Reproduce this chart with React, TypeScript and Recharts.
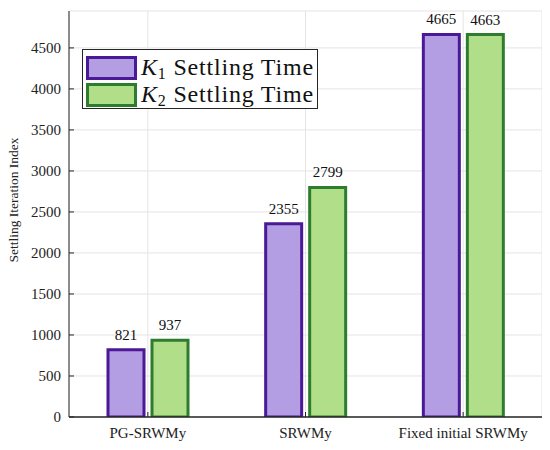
import React from 'react'
import {
  BarChart, Bar, XAxis, YAxis, CartesianGrid, LabelList,
} from 'recharts'

const categories = ['PG-SRWMy', 'SRWMy', 'Fixed initial SRWMy']
const k1Values = [821, 2355, 4665]
const k2Values = [937, 2799, 4663]
const yTicks = [0, 500, 1000, 1500, 2000, 2500, 3000, 3500, 4000, 4500]
const yMax = 4950

const SERIF = '"Liberation Serif"'
const AXIS = '#262626'

const K1_FILL = '#b39de3'
const K1_STROKE = '#4b1896'
const K2_FILL = '#b1df89'
const K2_STROKE = '#2e7d2e'

const legendItems = [
  { sub: '1', fill: K1_FILL, stroke: K1_STROKE },
  { sub: '2', fill: K2_FILL, stroke: K2_STROKE },
]

const data = categories.map((name, i) => ({ name, k1: k1Values[i], k2: k2Values[i] }))

function YLabel(props: any) {
  const vb = props.viewBox
  const x = vb.x + 13
  const y = vb.y + vb.height / 2 - 14
  return (
    <text x={x} y={y} transform={`rotate(-90 ${x} ${y})`} textAnchor="middle"
      dominantBaseline="central" style={{ fontFamily: SERIF, fontSize: 13.5 }} fill="#222">
      Settling Iteration Index
    </text>
  )
}

function LegendBox() {
  return (
    <div style={{
      position: 'absolute', left: 82, top: 49, width: 236, height: 60,
      border: `1px solid ${AXIS}`, background: '#fff', boxSizing: 'border-box',
      padding: '4px 0 0 3px',
    }}>
      {legendItems.map((it) => (
        <div key={it.sub} style={{ display: 'flex', alignItems: 'center', height: 27 }}>
          <div style={{
            width: 51, height: 24, boxSizing: 'border-box', background: it.fill,
            border: `3px solid ${it.stroke}`,
          }} />
          <span style={{ marginLeft: 4, fontFamily: SERIF, fontSize: 24, lineHeight: '27px', letterSpacing: 0.8, color: '#111', whiteSpace: 'nowrap' }}>
            <i>K</i><sub style={{ fontSize: 16, verticalAlign: -4, lineHeight: 0 }}>{it.sub}</sub> Settling Time
          </span>
        </div>
      ))}
    </div>
  )
}

export default function App() {
  const tickStyle = { fontSize: 15, fill: '#222', style: { fontFamily: SERIF } }
  return (
    <div style={{ position: 'relative', width: 550, height: 450, margin: -8, background: '#fff', fontFamily: SERIF }}>
      <BarChart width={550} height={450} data={data} barGap={8}
        margin={{ top: 11, right: 8, bottom: 0, left: 0 }} style={{ fontFamily: SERIF }}>
        <CartesianGrid stroke="#e4e4e4" strokeWidth={1} />
        <XAxis dataKey="name" height={33} tick={tickStyle} tickSize={-5} tickMargin={15}
          axisLine={{ stroke: AXIS, strokeWidth: 1.5 }} tickLine={{ stroke: AXIS }} />
        <XAxis xAxisId="top" dataKey="name" orientation="top" height={0} tick={false} tickSize={-5}
          axisLine={{ stroke: AXIS }} tickLine={{ stroke: AXIS }} />
        <YAxis width={69} domain={[0, yMax]} ticks={yTicks} allowDataOverflow tick={tickStyle}
          tickSize={-5} tickMargin={13} axisLine={{ stroke: AXIS }} tickLine={{ stroke: AXIS }}
          label={<YLabel />} />
        <YAxis yAxisId="right" orientation="right" width={0} domain={[0, yMax]} ticks={yTicks}
          allowDataOverflow tick={false} tickSize={-5} axisLine={{ stroke: AXIS }} tickLine={{ stroke: AXIS }} />
        <Bar dataKey="k1" barSize={36} fill={K1_FILL} stroke={K1_STROKE} strokeWidth={3} isAnimationActive={false}>
          <LabelList dataKey="k1" position="top" offset={10} fill="#111" fontSize={15} style={{ fontFamily: SERIF }} />
        </Bar>
        <Bar dataKey="k2" barSize={36} fill={K2_FILL} stroke={K2_STROKE} strokeWidth={3} isAnimationActive={false}>
          <LabelList dataKey="k2" position="top" offset={10} fill="#111" fontSize={15} style={{ fontFamily: SERIF }} />
        </Bar>
      </BarChart>
      <LegendBox />
    </div>
  )
}
